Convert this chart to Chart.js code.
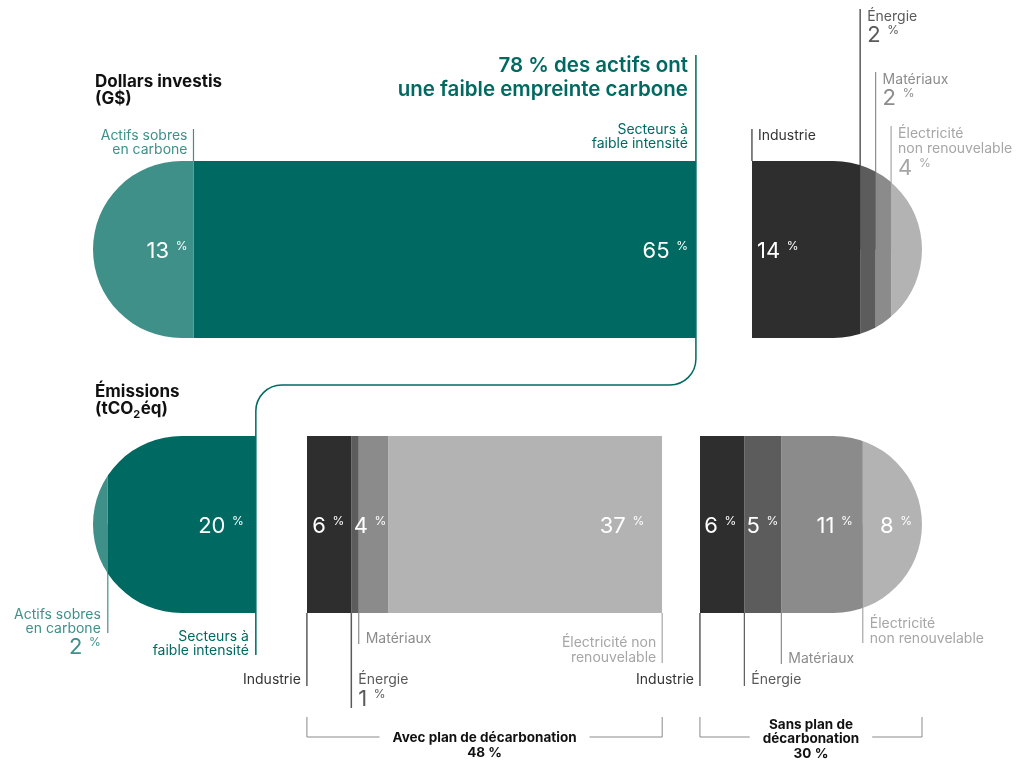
<!DOCTYPE html>
<html lang="fr">
<head>
<meta charset="utf-8">
<title>Dollars investis et émissions</title>
<script src="https://cdn.jsdelivr.net/npm/chart.js@4.4.1/dist/chart.umd.min.js"></script>
<style>
  html, body { margin: 0; padding: 0; background: #fff; }
  #wrap { width: 1021px; height: 761px; }
</style>
</head>
<body>
<div id="wrap"><canvas id="chart" width="1021" height="761"></canvas></div>
<script>
var rowNames = ["Dollars investis", "Émissions"];

// Dollars investis (G$), en % du total
var investLow = [13, 65];        // Actifs sobres en carbone, Secteurs à faible intensité
var investHigh = [14, 2, 2, 4];  // Industrie, Énergie, Matériaux, Électricité non renouvelable

// Émissions (tCO2éq), en % du total
var emitLow = [2, 20];
var emitPlan = [6, 1, 4, 37];    // avec plan de décarbonation
var emitNoPlan = [6, 5, 11, 8];  // sans plan de décarbonation

var lowNames = ["Actifs sobres en carbone", "Secteurs à faible intensité"];
var sectorNames = ["Industrie", "Énergie", "Matériaux", "Électricité non renouvelable"];

var TEAL = "#006a62", TEAL_LIGHT = "#3e9089";
var GREYS = ["#2e2e2e", "#5c5c5c", "#8b8b8b", "#b3b3b3"];
var TEXT_GREYS = ["#333333", "#5a5a5a", "#8c8c8c", "#a6a6a6"];
var FONT = "Inter, 'Noto Sans', sans-serif";

// spacing between blocks, in % units of each row's axis
var TOP_GAP = 7.25, BOT_GAP1 = 6.9, BOT_GAP2 = 5.1;

var groups = [
  { row: 0, axis: "xt", vals: investLow, names: lowNames, colors: [TEAL_LIGHT, TEAL], round: "left" },
  { row: 0, axis: "xt", vals: investHigh, names: sectorNames, colors: GREYS, round: "right", gap: TOP_GAP },
  { row: 1, axis: "xb", vals: emitLow, names: lowNames, colors: [TEAL_LIGHT, TEAL], round: "left" },
  { row: 1, axis: "xb", vals: emitPlan, names: sectorNames, colors: GREYS, round: "none", gap: BOT_GAP1 },
  { row: 1, axis: "xb", vals: emitNoPlan, names: sectorNames, colors: GREYS, round: "right", gap: BOT_GAP2 }
];

var datasets = [];
var cursor = { xt: 0, xb: 0 };
groups.forEach(function (g) {
  var pos = cursor[g.axis] + (g.gap || 0);
  g.start = pos;
  g.segs = [];
  g.vals.forEach(function (v, i) {
    var d = [null, null];
    d[g.row] = [pos, pos + v];
    g.segs.push({ v: v, from: pos, to: pos + v, ds: datasets.length });
    datasets.push({
      label: g.names[i],
      data: d,
      xAxisID: g.axis,
      backgroundColor: g.colors[i],
      borderWidth: 0,
      grouped: false,
      barPercentage: 0.644,
      categoryPercentage: 1
    });
    pos += v;
  });
  g.end = pos;
  cursor[g.axis] = pos;
});

function px(chart, g, v) {
  return chart.scales[g.axis].getPixelForValue(v);
}

function barBox(chart, g) {
  var el = chart.getDatasetMeta(g.segs[0].ds).data[g.row];
  return {
    x0: px(chart, g, g.start), x1: px(chart, g, g.end),
    y0: el.y - el.height / 2, y1: el.y + el.height / 2, cy: el.y
  };
}

function shapePath(ctx, b, round) {
  var r = (b.y1 - b.y0) / 2;
  if (round === "left") {
    ctx.moveTo(b.x1, b.y0);
    ctx.lineTo(b.x0 + r, b.y0);
    ctx.arc(b.x0 + r, b.y0 + r, r, -Math.PI / 2, Math.PI / 2, true);
    ctx.lineTo(b.x1, b.y1);
    ctx.closePath();
  } else if (round === "right") {
    ctx.moveTo(b.x0, b.y0);
    ctx.lineTo(b.x1 - r, b.y0);
    ctx.arc(b.x1 - r, b.y0 + r, r, -Math.PI / 2, Math.PI / 2, false);
    ctx.lineTo(b.x0, b.y1);
    ctx.closePath();
  } else {
    ctx.rect(b.x0, b.y0, b.x1 - b.x0, b.y1 - b.y0);
  }
}

function txt(ctx, s, x, y, size, color, align, weight) {
  ctx.font = (weight || "400") + " " + size + "px " + FONT;
  ctx.fillStyle = color;
  ctx.textAlign = align || "left";
  ctx.textBaseline = "alphabetic";
  ctx.fillText(s, x, y);
}

function vline(ctx, x, y0, y1, color, w) {
  ctx.beginPath();
  ctx.strokeStyle = color;
  ctx.lineWidth = w || 1.2;
  ctx.moveTo(x, y0);
  ctx.lineTo(x, y1);
  ctx.stroke();
}

// number with a small raised "%" sign; align is where x sits ("left" or "right")
function pct(ctx, num, x, y, size, color, align) {
  var small = Math.round(size * 0.55);
  ctx.font = "400 " + size + "px " + FONT;
  var w1 = ctx.measureText(String(num)).width;
  ctx.font = "400 " + small + "px " + FONT;
  var w2 = ctx.measureText("%").width;
  var gap = size * 0.3;
  var left = align === "right" ? x - w1 - gap - w2 : x;
  txt(ctx, String(num), left, y, size, color, "left");
  txt(ctx, "%", left + w1 + gap, y - size * 0.36, small, color, "left");
}

// lines under the annotations, drawn before the bars so the bars cover the part
// that runs under a rounded end
function leaderLines(chart) {
  var ctx = chart.ctx;
  var gA = groups[0], gB = groups[1], gC = groups[2], gD = groups[3], gE = groups[4];
  var tb = barBox(chart, gA), bb = barBox(chart, gC);
  vline(ctx, px(chart, gA, gA.segs[0].to), 129, tb.y0, TEAL_LIGHT);
  vline(ctx, px(chart, gB, gB.segs[0].from), 129, tb.y0, TEXT_GREYS[0]);
  vline(ctx, px(chart, gB, gB.segs[1].from), 9, tb.cy, TEXT_GREYS[1], 1.5);
  vline(ctx, px(chart, gB, gB.segs[2].from), 72, tb.cy, TEXT_GREYS[2]);
  vline(ctx, px(chart, gB, gB.segs[3].from), 126, tb.cy, TEXT_GREYS[3]);

  vline(ctx, px(chart, gC, gC.segs[0].to), bb.cy, 633, TEAL_LIGHT);
  vline(ctx, px(chart, gD, gD.segs[0].from), bb.y1, 686, TEXT_GREYS[0]);
  vline(ctx, px(chart, gD, gD.segs[1].from), bb.y1, 708, TEXT_GREYS[1], 1.5);
  vline(ctx, px(chart, gD, gD.segs[2].from), bb.y1, 644, TEXT_GREYS[2]);
  vline(ctx, px(chart, gD, gD.segs[3].to), bb.y1, 663, TEXT_GREYS[3]);
  vline(ctx, px(chart, gE, gE.segs[0].from), bb.y1, 686, TEXT_GREYS[0]);
  vline(ctx, px(chart, gE, gE.segs[1].from), bb.y1, 686, TEXT_GREYS[1]);
  vline(ctx, px(chart, gE, gE.segs[2].from), bb.y1, 664, TEXT_GREYS[2]);
  vline(ctx, px(chart, gE, gE.segs[3].from), bb.cy, 643, TEXT_GREYS[3]);
}

var capClip = {
  id: "capClip",
  beforeDatasetsDraw: function (chart) {
    var ctx = chart.ctx;
    leaderLines(chart);
    ctx.save();
    ctx.beginPath();
    groups.forEach(function (g) {
      shapePath(ctx, barBox(chart, g), g.round);
    });
    ctx.clip();
  },
  afterDatasetsDraw: function (chart) {
    chart.ctx.restore();
  }
};

function sum(a) {
  return a.reduce(function (s, v) { return s + v; }, 0);
}

function bracket(ctx, x0, x1, lines, total, y) {
  var top = 717, yb = 737, mid = (x0 + x1) / 2;
  ctx.font = "700 13.5px " + FONT;
  var half = Math.max.apply(null, lines.map(function (l) { return ctx.measureText(l).width; })) / 2 + 13;
  ctx.beginPath();
  ctx.strokeStyle = "#8a8a8a";
  ctx.lineWidth = 1;
  ctx.moveTo(x0, top); ctx.lineTo(x0, yb); ctx.lineTo(mid - half, yb);
  ctx.moveTo(mid + half, yb); ctx.lineTo(x1, yb); ctx.lineTo(x1, top);
  ctx.stroke();
  lines.forEach(function (l, i) {
    txt(ctx, l, mid, y + i * 14, 13.5, "#111", "center", "700");
  });
  txt(ctx, total, mid, y + lines.length * 14 + 1, 13.5, "#111", "center", "700");
}

var annotations = {
  id: "annotations",
  afterDraw: function (chart) {
    var ctx = chart.ctx;
    var gA = groups[0], gB = groups[1], gC = groups[2], gD = groups[3], gE = groups[4];
    var bE = barBox(chart, gE), bD = barBox(chart, gD);
    var xA = px(chart, gA, gA.end), xC = px(chart, gC, gC.end);
    var W = "#ffffff";

    // connector between the two low carbon blocks
    var r = 26, yMid = 385;
    ctx.beginPath();
    ctx.strokeStyle = TEAL;
    ctx.lineWidth = 1.5;
    ctx.moveTo(xA, 55);
    ctx.arcTo(xA, yMid, xA - r, yMid, r);
    ctx.arcTo(xC, yMid, xC, yMid + r, r);
    ctx.lineTo(xC, 655);
    ctx.stroke();

    // row titles
    txt(ctx, rowNames[0], 95, 87, 17, "#111", "left", "700");
    txt(ctx, "(G$)", 95, 104, 17, "#111", "left", "700");
    txt(ctx, rowNames[1], 95, 397, 17, "#111", "left", "700");
    ctx.font = "700 17px " + FONT;
    var w = ctx.measureText("(tCO").width;
    txt(ctx, "(tCO", 95, 414, 17, "#111", "left", "700");
    txt(ctx, "2", 95 + w, 418, 11, "#111", "left", "700");
    ctx.font = "700 11px " + FONT;
    var w2 = ctx.measureText("2").width;
    txt(ctx, "éq)", 95 + w + w2 + 0.5, 414, 17, "#111", "left", "700");

    // headline
    txt(ctx, sum(investLow) + " % des actifs ont", xA - 8, 72, 20.5, TEAL, "right", "600");
    txt(ctx, "une faible empreinte carbone", xA - 8, 96, 20.5, TEAL, "right", "600");

    // top row labels
    var xs = px(chart, gA, gA.segs[0].to);
    txt(ctx, "Actifs sobres", xs - 6, 140, 14, TEAL_LIGHT, "right");
    txt(ctx, "en carbone", xs - 6, 154, 14, TEAL_LIGHT, "right");
    txt(ctx, "Secteurs à", xA - 8, 134, 14, TEAL, "right");
    txt(ctx, "faible intensité", xA - 8, 148, 14, TEAL, "right");
    pct(ctx, investLow[0], xs - 6, 258, 22, W, "right");
    pct(ctx, investLow[1], xA - 8, 258, 22, W, "right");

    var xi = px(chart, gB, gB.segs[0].from);
    txt(ctx, sectorNames[0], xi + 6, 140, 14, TEXT_GREYS[0]);
    pct(ctx, investHigh[0], xi + 5, 258, 22, W, "left");
    var xe = px(chart, gB, gB.segs[1].from) + 7;
    txt(ctx, sectorNames[1], xe, 21, 14, TEXT_GREYS[1]);
    pct(ctx, investHigh[1], xe, 42, 22, TEXT_GREYS[1], "left");
    var xm = px(chart, gB, gB.segs[2].from) + 7;
    txt(ctx, sectorNames[2], xm, 84, 14, TEXT_GREYS[2]);
    pct(ctx, investHigh[2], xm, 105, 22, TEXT_GREYS[2], "left");
    var xl = px(chart, gB, gB.segs[3].from) + 7;
    txt(ctx, "Électricité", xl, 138, 14, TEXT_GREYS[3]);
    txt(ctx, "non renouvelable", xl, 153, 14, TEXT_GREYS[3]);
    pct(ctx, investHigh[3], xl, 175, 22, TEXT_GREYS[3], "left");

    // bottom row: low carbon block
    var xs2 = px(chart, gC, gC.segs[0].to);
    txt(ctx, "Actifs sobres", xs2 - 7, 619, 14, TEAL_LIGHT, "right");
    txt(ctx, "en carbone", xs2 - 7, 633, 14, TEAL_LIGHT, "right");
    pct(ctx, emitLow[0], xs2 - 7, 654, 22, TEAL_LIGHT, "right");
    txt(ctx, "Secteurs à", xC - 7, 641, 14, TEAL, "right");
    txt(ctx, "faible intensité", xC - 7, 655, 14, TEAL, "right");
    pct(ctx, emitLow[1], xC - 12, 533, 22, W, "right");

    // bottom row: with plan
    var d = gD.segs.map(function (s) { return [px(chart, gD, s.from), px(chart, gD, s.to)]; });
    pct(ctx, emitPlan[0], d[0][1] - 7, 533, 22, W, "right");
    pct(ctx, emitPlan[2], d[2][1] - 2, 533, 22, W, "right");
    pct(ctx, emitPlan[3], d[3][1] - 18, 533, 22, W, "right");
    txt(ctx, sectorNames[0], d[0][0] - 6, 684, 14, TEXT_GREYS[0], "right");
    txt(ctx, sectorNames[1], d[1][0] + 7, 684, 14, TEXT_GREYS[1]);
    pct(ctx, emitPlan[1], d[1][0] + 7, 706, 22, TEXT_GREYS[1], "left");
    txt(ctx, sectorNames[2], d[2][0] + 7, 643, 14, TEXT_GREYS[2]);
    txt(ctx, "Électricité non", d[3][1] - 6, 647, 14, TEXT_GREYS[3], "right");
    txt(ctx, "renouvelable", d[3][1] - 6, 662, 14, TEXT_GREYS[3], "right");

    // bottom row: without plan
    var e = gE.segs.map(function (s) { return [px(chart, gE, s.from), px(chart, gE, s.to)]; });
    pct(ctx, emitNoPlan[0], e[0][1] - 8, 533, 22, W, "right");
    pct(ctx, emitNoPlan[1], e[1][1] - 3, 533, 22, W, "right");
    pct(ctx, emitNoPlan[2], e[2][1] - 10, 533, 22, W, "right");
    pct(ctx, emitNoPlan[3], e[3][1] - 10, 533, 22, W, "right");
    txt(ctx, sectorNames[0], e[0][0] - 6, 684, 14, TEXT_GREYS[0], "right");
    txt(ctx, sectorNames[1], e[1][0] + 7, 684, 14, TEXT_GREYS[1]);
    txt(ctx, sectorNames[2], e[2][0] + 7, 663, 14, TEXT_GREYS[2]);
    txt(ctx, "Électricité", e[3][0] + 7, 628, 14, TEXT_GREYS[3]);
    txt(ctx, "non renouvelable", e[3][0] + 7, 643, 14, TEXT_GREYS[3]);

    // brackets
    bracket(ctx, bD.x0, bD.x1, ["Avec plan de décarbonation"], sum(emitPlan) + " %", 742);
    bracket(ctx, bE.x0, bE.x1, ["Sans plan de", "décarbonation"], sum(emitNoPlan) + " %", 729);
  }
};

new Chart(document.getElementById("chart"), {
  type: "bar",
  data: { labels: rowNames, datasets: datasets },
  options: {
    indexAxis: "y",
    responsive: false,
    animation: false,
    layout: { padding: { left: 93, right: 99, top: 112, bottom: 99 } },
    scales: {
      y: { type: "category", display: false, offset: true },
      xt: { type: "linear", axis: "x", min: 0, max: cursor.xt, display: false },
      xb: { type: "linear", axis: "x", min: 0, max: cursor.xb, display: false }
    },
    plugins: { legend: { display: false }, tooltip: { enabled: false } }
  },
  plugins: [capClip, annotations]
});
</script>
</body>
</html>
